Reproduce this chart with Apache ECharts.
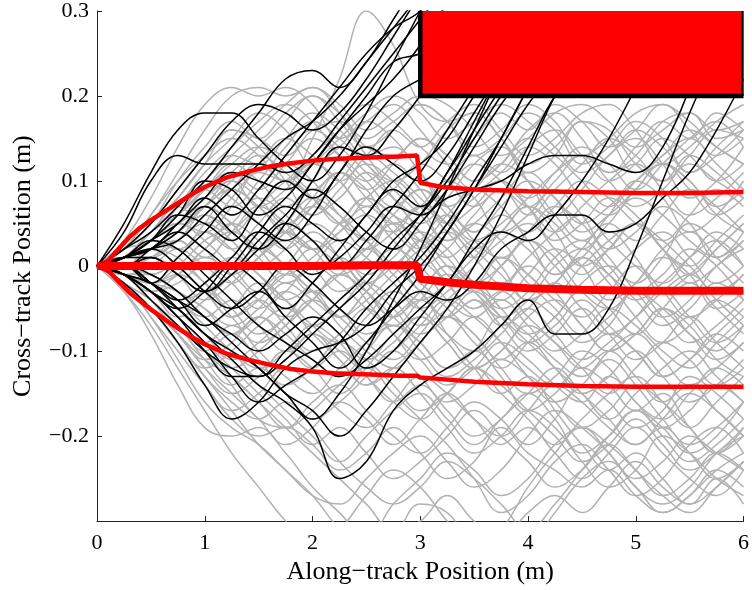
<!DOCTYPE html>
<html><head><meta charset="utf-8">
<script src="https://cdn.jsdelivr.net/npm/echarts@6/dist/echarts.min.js"></script>
<style>html,body{margin:0;padding:0;background:#fff}#c{width:752px;height:590px}</style>
</head><body><div id="c"></div>
<script>
// along-track sample positions (m)
const alongTrack = [0,0.25,0.5,0.75,1,1.25,1.5,1.75,2,2.25,2.5,2.75,3,3.25,3.5,3.75,4,4.25,4.5,4.75,5,5.25,5.5,5.75,6];
const xTickLabels = ['0','1','2','3','4','5','6'];
const yTickLabels = ['', '\u22120.2', '\u22120.1', '0', '0.1', '0.2', '0.3'];

// gray trajectories (no collision), cross-track position (m)
const g01 = [0,0.02,0.06,0.11,0.16,0.20,0.21,0.20,0.21,0.18,0.13,0.10,0.12,0.16,0.18,0.15,0.11,0.13,0.17,0.16,0.12,0.10,0.13,0.16,0.15];
const g02 = [0,0.03,0.08,0.14,0.19,0.21,0.20,0.21,0.19,0.15,0.17,0.19,0.16,0.12,0.09,0.11,0.14,0.12,0.08,0.06,0.09,0.12,0.10,0.07,0.09];
const g03 = [0,0.01,0.03,0.05,0.04,0.07,0.11,0.10,0.15,0.22,0.30,0.26,0.19,0.17,0.18,0.15,0.12,0.14,0.17,0.15,0.11,0.13,0.16,0.14,0.12];
const g04 = [0,0.02,0.05,0.08,0.12,0.16,0.15,0.13,0.16,0.17,0.14,0.13,0.15,0.13,0.10,0.12,0.16,0.18,0.15,0.11,0.13,0.17,0.18,0.15,0.16];
const g05 = [0,0.01,0.03,0.07,0.10,0.13,0.12,0.15,0.18,0.16,0.13,0.14,0.11,0.07,0.09,0.12,0.10,0.06,0.03,0.06,0.10,0.08,0.04,0.06,0.10];
const g06 = [0,0.01,0.04,0.06,0.09,0.12,0.10,0.07,0.10,0.14,0.12,0.08,0.05,0.08,0.12,0.14,0.10,0.06,0.09,0.13,0.15,0.12,0.08,0.10,0.14];
const g07 = [0,0.02,0.03,0.06,0.08,0.06,0.09,0.12,0.10,0.06,0.03,0.06,0.09,0.07,0.03,0.01,0.04,0.07,0.05,0.01,-0.02,0.01,0.05,0.03,0.00];
const g08 = [0,0.01,0.02,0.05,0.07,0.05,0.02,0.04,0.08,0.11,0.09,0.05,0.07,0.10,0.08,0.04,0.06,0.09,0.06,0.02,0.04,0.07,0.05,0.01,0.03];
const g09 = [0,0.00,0.02,0.03,0.01,0.04,0.07,0.05,0.02,0.04,0.08,0.10,0.07,0.03,0.05,0.08,0.11,0.08,0.04,0.06,0.09,0.12,0.10,0.06,0.04];
const g10 = [0,0.01,0.01,0.03,0.05,0.03,0.00,0.02,0.05,0.03,-0.01,0.01,0.04,0.02,-0.02,-0.04,-0.01,0.02,0.00,-0.04,-0.02,0.02,0.04,0.01,-0.02];
const g11 = [0,-0.01,0.00,0.02,0.00,-0.02,0.01,0.04,0.02,-0.01,0.01,0.05,0.03,-0.01,-0.03,0.00,0.03,0.01,-0.03,-0.05,-0.02,0.01,-0.01,-0.05,-0.03];
const g12 = [0,0.00,-0.02,-0.01,0.02,0.04,0.02,-0.01,0.01,0.04,0.06,0.03,0.00,0.02,0.05,0.03,-0.01,-0.03,0.00,0.03,0.05,0.02,-0.02,0.00,0.03];
const g13 = [0,-0.01,-0.03,-0.02,0.00,-0.02,-0.05,-0.03,0.00,-0.02,-0.05,-0.07,-0.04,-0.01,-0.03,-0.06,-0.04,0.00,0.02,-0.01,-0.04,-0.02,0.01,0.03,0.00];
const g14 = [0,-0.01,-0.02,-0.05,-0.07,-0.05,-0.02,-0.04,-0.07,-0.09,-0.06,-0.03,-0.05,-0.08,-0.10,-0.07,-0.04,-0.06,-0.09,-0.07,-0.03,-0.05,-0.08,-0.10,-0.07];
const g15 = [0,-0.02,-0.05,-0.08,-0.11,-0.09,-0.06,-0.08,-0.11,-0.13,-0.10,-0.07,-0.09,-0.12,-0.10,-0.06,-0.08,-0.11,-0.13,-0.10,-0.08,-0.11,-0.14,-0.12,-0.09];
const g16 = [0,-0.02,-0.06,-0.10,-0.14,-0.17,-0.15,-0.12,-0.14,-0.17,-0.19,-0.16,-0.13,-0.15,-0.18,-0.20,-0.17,-0.14,-0.16,-0.19,-0.21,-0.18,-0.15,-0.17,-0.20];
const g17 = [0,-0.03,-0.08,-0.14,-0.19,-0.20,-0.19,-0.22,-0.26,-0.29,-0.32,-0.28,-0.25,-0.22,-0.24,-0.27,-0.25,-0.21,-0.19,-0.22,-0.25,-0.23,-0.20,-0.22,-0.24];
const g18 = [0,-0.03,-0.07,-0.12,-0.17,-0.22,-0.26,-0.30,-0.33,-0.31,-0.27,-0.24,-0.26,-0.30,-0.33,-0.31,-0.26,-0.22,-0.19,-0.21,-0.24,-0.27,-0.25,-0.22,-0.24];
const g19 = [0,-0.02,-0.05,-0.09,-0.13,-0.17,-0.21,-0.24,-0.27,-0.28,-0.25,-0.22,-0.20,-0.23,-0.26,-0.24,-0.20,-0.17,-0.19,-0.22,-0.26,-0.28,-0.26,-0.22,-0.20];
const g20 = [0,-0.02,-0.04,-0.07,-0.10,-0.14,-0.18,-0.19,-0.16,-0.14,-0.17,-0.20,-0.22,-0.19,-0.16,-0.18,-0.21,-0.18,-0.14,-0.16,-0.19,-0.17,-0.13,-0.15,-0.18];
const g21 = [0,-0.01,-0.04,-0.08,-0.12,-0.15,-0.13,-0.10,-0.12,-0.15,-0.12,-0.08,-0.06,-0.09,-0.12,-0.10,-0.06,-0.04,-0.07,-0.10,-0.08,-0.05,-0.07,-0.11,-0.13];
const g22 = [0,-0.01,-0.03,-0.06,-0.09,-0.12,-0.10,-0.07,-0.04,-0.06,-0.09,-0.11,-0.08,-0.04,-0.02,-0.05,-0.08,-0.06,-0.02,0.00,-0.03,-0.06,-0.04,0.00,0.02];
const g23 = [0,0.01,0.02,0.00,-0.03,-0.06,-0.04,-0.01,-0.03,-0.07,-0.10,-0.12,-0.09,-0.06,-0.08,-0.12,-0.15,-0.13,-0.10,-0.12,-0.16,-0.18,-0.15,-0.12,-0.14];
const g24 = [0,0.01,0.03,0.05,0.03,0.00,-0.03,-0.01,0.02,0.00,-0.04,-0.08,-0.11,-0.09,-0.06,-0.09,-0.13,-0.16,-0.14,-0.11,-0.14,-0.18,-0.21,-0.19,-0.16];
const g25 = [0,0.01,0.04,0.07,0.10,0.08,0.05,0.02,0.04,0.01,-0.03,-0.06,-0.04,-0.08,-0.12,-0.15,-0.13,-0.17,-0.21,-0.24,-0.22,-0.25,-0.28,-0.26,-0.23];
const g26 = [0,0.02,0.05,0.09,0.13,0.16,0.14,0.10,0.06,0.08,0.11,0.08,0.04,0.01,0.03,0.00,-0.04,-0.02,0.01,-0.02,-0.06,-0.09,-0.07,-0.04,-0.06];
const g27 = [0,0.01,0.04,0.08,0.12,0.15,0.18,0.16,0.12,0.14,0.17,0.15,0.11,0.07,0.04,0.06,0.03,-0.01,0.01,0.04,0.01,-0.03,-0.01,0.02,0.05];
const g28 = [0,0.01,0.03,0.07,0.11,0.14,0.17,0.19,0.17,0.13,0.10,0.12,0.09,0.05,0.07,0.10,0.07,0.03,0.05,0.08,0.06,0.02,0.00,0.03,0.06];
const g29 = [0,-0.01,-0.02,-0.04,-0.02,0.01,-0.01,-0.04,-0.07,-0.05,-0.02,-0.04,-0.07,-0.05,-0.02,0.01,-0.02,-0.05,-0.08,-0.06,-0.03,-0.06,-0.09,-0.07,-0.04];
const g30 = [0,0.00,-0.01,-0.03,-0.06,-0.08,-0.06,-0.03,-0.05,-0.08,-0.11,-0.09,-0.06,-0.09,-0.12,-0.10,-0.07,-0.09,-0.12,-0.15,-0.12,-0.09,-0.11,-0.14,-0.12];
const g31 = [0,-0.01,-0.03,-0.05,-0.08,-0.10,-0.13,-0.11,-0.08,-0.10,-0.13,-0.16,-0.14,-0.17,-0.20,-0.18,-0.15,-0.18,-0.22,-0.20,-0.17,-0.20,-0.23,-0.21,-0.18];
const g32 = [0,-0.01,-0.04,-0.07,-0.09,-0.07,-0.10,-0.13,-0.15,-0.12,-0.09,-0.07,-0.10,-0.13,-0.11,-0.08,-0.05,-0.08,-0.11,-0.09,-0.06,-0.03,-0.06,-0.09,-0.07];
const g33 = [0,0.00,0.01,0.03,0.06,0.04,0.01,-0.02,0.00,0.03,0.01,-0.02,-0.05,-0.03,0.00,0.03,0.05,0.02,-0.01,0.02,0.05,0.03,0.00,-0.03,-0.01];
const g34 = [0,0.01,0.02,0.04,0.07,0.10,0.08,0.05,0.07,0.10,0.13,0.11,0.08,0.05,0.02,0.04,0.07,0.05,0.02,0.05,0.08,0.06,0.03,0.01,0.04];
const g35 = [0,0.01,0.03,0.06,0.09,0.11,0.09,0.12,0.15,0.13,0.10,0.07,0.09,0.06,0.03,0.05,0.08,0.11,0.13,0.10,0.07,0.09,0.12,0.10,0.08];
const g36 = [0,-0.01,-0.02,0.00,0.03,0.05,0.08,0.06,0.03,0.00,0.02,0.05,0.02,-0.02,-0.05,-0.03,0.00,-0.03,-0.07,-0.10,-0.08,-0.05,-0.08,-0.11,-0.09];
const g37 = [0,-0.01,-0.03,-0.06,-0.04,-0.01,0.02,0.00,-0.03,-0.06,-0.04,-0.01,0.02,0.04,0.01,-0.02,0.01,0.04,0.06,0.03,0.00,-0.02,0.01,0.04,0.02];
const g38 = [0,-0.02,-0.05,-0.09,-0.12,-0.10,-0.07,-0.05,-0.08,-0.11,-0.14,-0.12,-0.15,-0.19,-0.22,-0.20,-0.17,-0.19,-0.23,-0.26,-0.24,-0.20,-0.22,-0.25,-0.27];
const g39 = [0,-0.02,-0.05,-0.09,-0.13,-0.16,-0.18,-0.16,-0.19,-0.23,-0.26,-0.28,-0.26,-0.23,-0.25,-0.28,-0.31,-0.28,-0.24,-0.20,-0.17,-0.19,-0.22,-0.20,-0.16];
const g40 = [0,-0.01,-0.04,-0.07,-0.10,-0.08,-0.11,-0.14,-0.12,-0.09,-0.11,-0.14,-0.17,-0.15,-0.12,-0.14,-0.17,-0.20,-0.23,-0.21,-0.18,-0.21,-0.24,-0.22,-0.19];
const g41 = [0,0.01,0.02,0.04,0.02,-0.01,0.01,0.04,0.07,0.05,0.02,0.04,0.07,0.05,0.02,-0.01,-0.04,-0.02,0.01,-0.01,-0.04,-0.07,-0.05,-0.02,-0.04];
const g42 = [0,0.00,0.01,-0.01,-0.04,-0.02,0.01,0.03,0.00,-0.03,-0.01,0.02,0.00,-0.04,-0.06,-0.04,-0.07,-0.10,-0.08,-0.05,-0.07,-0.10,-0.12,-0.09,-0.06];
const g43 = [0,0.01,0.03,0.06,0.09,0.12,0.14,0.12,0.09,0.11,0.08,0.05,0.02,0.05,0.08,0.10,0.08,0.11,0.14,0.12,0.09,0.12,0.15,0.17,0.14];
const g44 = [0,0.01,0.03,0.05,0.08,0.11,0.14,0.17,0.20,0.18,0.15,0.17,0.19,0.17,0.14,0.16,0.19,0.17,0.13,0.15,0.18,0.19,0.16,0.13,0.15];
const g45 = [0,-0.01,-0.02,-0.03,-0.05,-0.07,-0.05,-0.02,-0.04,-0.06,-0.03,0.00,-0.02,-0.05,-0.08,-0.11,-0.09,-0.12,-0.15,-0.13,-0.10,-0.13,-0.16,-0.14,-0.11];
const g46 = [0,-0.02,-0.05,-0.08,-0.11,-0.13,-0.16,-0.19,-0.17,-0.14,-0.12,-0.15,-0.18,-0.21,-0.25,-0.29,-0.27,-0.23,-0.21,-0.24,-0.27,-0.25,-0.21,-0.19,-0.22];
const g47 = [0,-0.02,-0.06,-0.11,-0.16,-0.19,-0.21,-0.24,-0.27,-0.31,-0.34,-0.32,-0.28,-0.29,-0.33,-0.35,-0.33,-0.29,-0.25,-0.23,-0.26,-0.29,-0.27,-0.24,-0.26];
const g48 = [0,0.00,-0.02,-0.04,-0.07,-0.10,-0.12,-0.10,-0.07,-0.09,-0.12,-0.10,-0.07,-0.04,-0.06,-0.09,-0.12,-0.14,-0.11,-0.08,-0.10,-0.13,-0.11,-0.08,-0.05];
const g49 = [0,0.01,0.02,0.05,0.08,0.06,0.09,0.13,0.16,0.14,0.11,0.08,0.06,0.09,0.12,0.10,0.07,0.04,0.07,0.10,0.12,0.09,0.06,0.08,0.11];
const g50 = [0,0.00,0.02,0.01,-0.02,-0.05,-0.08,-0.06,-0.03,-0.05,-0.08,-0.06,-0.03,0.00,-0.02,-0.05,-0.03,0.01,0.03,0.00,-0.03,-0.01,0.02,0.00,-0.04];
const g51 = [0,0.01,0.03,0.06,0.10,0.13,0.16,0.19,0.21,0.19,0.16,0.18,0.20,0.19,0.16,0.13,0.15,0.18,0.19,0.17,0.14,0.16,0.18,0.16,0.17];
const g52 = [0,-0.02,-0.05,-0.09,-0.14,-0.18,-0.20,-0.19,-0.21,-0.24,-0.22,-0.19,-0.22,-0.25,-0.23,-0.19,-0.22,-0.24,-0.26,-0.24,-0.27,-0.29,-0.27,-0.24,-0.22];
const g53 = [0,0.01,0.02,0.04,0.07,0.09,0.07,0.04,0.02,0.05,0.08,0.06,0.03,0.06,0.09,0.07,0.04,0.07,0.10,0.08,0.05,0.03,0.06,0.09,0.07];
const g54 = [0,-0.01,-0.01,0.01,0.04,0.02,-0.01,-0.04,-0.02,0.01,-0.02,-0.05,-0.08,-0.06,-0.03,-0.06,-0.09,-0.07,-0.04,-0.07,-0.10,-0.13,-0.11,-0.08,-0.10];
const g55 = [0,-0.01,-0.03,-0.05,-0.03,-0.06,-0.09,-0.07,-0.04,-0.01,-0.03,-0.06,-0.09,-0.12,-0.10,-0.13,-0.17,-0.15,-0.12,-0.14,-0.17,-0.15,-0.19,-0.22,-0.20];
const g56 = [0,0.02,0.05,0.10,0.14,0.17,0.15,0.18,0.20,0.17,0.14,0.16,0.19,0.17,0.13,0.15,0.18,0.16,0.12,0.14,0.17,0.15,0.11,0.13,0.16];
const g57 = [0,0.01,0.04,0.07,0.05,0.08,0.12,0.15,0.13,0.10,0.13,0.16,0.14,0.17,0.19,0.16,0.13,0.15,0.18,0.19,0.16,0.12,0.14,0.17,0.19];
const g58 = [0,0.01,0.03,0.02,0.05,0.09,0.07,0.04,0.07,0.11,0.09,0.12,0.15,0.13,0.10,0.12,0.15,0.13,0.10,0.07,0.10,0.13,0.15,0.12,0.09];
const g59 = [0,0.00,-0.01,0.01,0.04,0.02,0.05,0.08,0.06,0.09,0.12,0.10,0.07,0.10,0.13,0.11,0.14,0.16,0.13,0.10,0.12,0.15,0.13,0.10,0.12];
const g60 = [0,0.01,0.03,0.05,0.08,0.10,0.07,0.09,0.12,0.10,0.06,0.04,0.07,0.04,0.01,0.04,0.07,0.04,0.00,0.02,0.05,0.02,-0.01,0.02,0.05];
const g61 = [0,-0.01,-0.02,0.00,-0.02,-0.05,-0.03,0.00,0.03,0.01,-0.02,0.00,0.03,0.06,0.04,0.07,0.10,0.08,0.05,0.07,0.10,0.12,0.09,0.06,0.08];
const g62 = [0,0.00,0.01,0.00,0.02,0.05,0.03,0.00,-0.03,-0.01,0.02,-0.01,-0.04,-0.02,0.01,0.04,0.02,-0.01,0.02,0.05,0.03,0.06,0.09,0.07,0.04];
const g63 = [0,-0.01,-0.03,-0.01,0.01,-0.01,-0.04,-0.06,-0.04,-0.01,-0.03,-0.06,-0.03,0.00,-0.02,0.01,-0.01,-0.04,-0.06,-0.03,0.00,-0.03,-0.06,-0.04,-0.01];
const g64 = [0,-0.01,-0.02,-0.04,-0.06,-0.04,-0.07,-0.10,-0.08,-0.11,-0.14,-0.12,-0.09,-0.06,-0.09,-0.12,-0.09,-0.06,-0.03,-0.05,-0.08,-0.05,-0.02,-0.05,-0.08];
const g65 = [0,-0.02,-0.04,-0.07,-0.11,-0.14,-0.12,-0.15,-0.18,-0.16,-0.13,-0.10,-0.13,-0.16,-0.14,-0.11,-0.13,-0.16,-0.19,-0.17,-0.14,-0.16,-0.19,-0.22,-0.19];
const g66 = [0,-0.01,-0.03,-0.06,-0.09,-0.12,-0.15,-0.18,-0.21,-0.19,-0.22,-0.25,-0.23,-0.20,-0.17,-0.20,-0.23,-0.26,-0.24,-0.21,-0.24,-0.27,-0.29,-0.26,-0.23];
const g67 = [0,-0.02,-0.05,-0.08,-0.12,-0.15,-0.18,-0.21,-0.19,-0.16,-0.18,-0.21,-0.18,-0.15,-0.18,-0.21,-0.19,-0.22,-0.25,-0.22,-0.19,-0.22,-0.25,-0.27,-0.24];
const g68 = [0,0.00,-0.01,-0.03,-0.05,-0.08,-0.06,-0.09,-0.12,-0.10,-0.13,-0.16,-0.18,-0.15,-0.12,-0.15,-0.18,-0.21,-0.18,-0.15,-0.13,-0.16,-0.19,-0.16,-0.13];
const g69 = [0,0.01,0.02,0.04,0.06,0.04,0.07,0.10,0.08,0.05,0.03,0.00,-0.03,-0.06,-0.04,-0.07,-0.10,-0.08,-0.05,-0.08,-0.11,-0.09,-0.06,-0.09,-0.12];
const g70 = [0,0.01,0.03,0.05,0.07,0.10,0.13,0.11,0.08,0.05,0.07,0.04,0.01,-0.02,-0.05,-0.03,-0.06,-0.09,-0.12,-0.10,-0.13,-0.16,-0.14,-0.17,-0.20];
const g71 = [0,0.01,0.02,0.03,0.06,0.09,0.12,0.10,0.13,0.16,0.19,0.17,0.14,0.12,0.15,0.18,0.16,0.19,0.17,0.14,0.16,0.19,0.17,0.14,0.12];
const g72 = [0,0.02,0.06,0.10,0.13,0.15,0.13,0.10,0.12,0.15,0.18,0.20,0.18,0.15,0.17,0.19,0.17,0.14,0.11,0.13,0.16,0.14,0.11,0.14,0.17];
const g73 = [0,0.00,-0.02,-0.04,-0.03,-0.01,0.02,0.04,0.02,0.05,0.08,0.06,0.04,0.01,-0.02,0.00,0.03,0.00,-0.03,-0.01,0.02,0.04,0.01,-0.02,0.00];
const g74 = [0,-0.01,-0.02,-0.05,-0.08,-0.11,-0.09,-0.06,-0.03,-0.06,-0.03,0.00,-0.03,-0.06,-0.04,-0.07,-0.05,-0.02,-0.05,-0.08,-0.06,-0.03,-0.01,-0.04,-0.07];
const g75 = [0,-0.01,-0.04,-0.07,-0.10,-0.13,-0.16,-0.19,-0.22,-0.25,-0.28,-0.31,-0.30,-0.27,-0.30,-0.32,-0.29,-0.27,-0.29,-0.26,-0.23,-0.26,-0.28,-0.25,-0.28];
const g76 = [0,0.01,0.02,0.04,0.07,0.05,0.02,0.05,0.08,0.06,0.03,0.00,0.03,0.00,-0.03,-0.06,-0.09,-0.12,-0.15,-0.18,-0.21,-0.19,-0.22,-0.25,-0.23];
const g77 = [0,0.00,0.01,0.03,0.01,0.04,0.07,0.10,0.12,0.10,0.07,0.09,0.12,0.10,0.07,0.09,0.06,0.09,0.12,0.15,0.13,0.10,0.13,0.11,0.08];
const g78 = [0,-0.01,-0.02,-0.01,-0.03,-0.06,-0.04,-0.07,-0.10,-0.08,-0.05,-0.08,-0.11,-0.14,-0.12,-0.09,-0.11,-0.14,-0.16,-0.13,-0.16,-0.19,-0.17,-0.14,-0.16];
const g79 = [0,0.01,0.03,0.06,0.09,0.07,0.10,0.14,0.17,0.15,0.12,0.09,0.06,0.03,0.06,0.09,0.07,0.10,0.13,0.11,0.14,0.17,0.15,0.18,0.16];
const g80 = [0,-0.01,-0.03,-0.05,-0.08,-0.11,-0.14,-0.17,-0.20,-0.23,-0.20,-0.17,-0.15,-0.18,-0.21,-0.18,-0.15,-0.12,-0.15,-0.18,-0.15,-0.12,-0.10,-0.13,-0.16];

// black trajectories (collision with obstacle), sampled on alongTrack until they end
const k01 = [0,0.05,0.11,0.16,0.18,0.18,0.15,0.12,0.10,0.13,0.18,0.24,0.30,0.36];
const k02 = [0,0.04,0.10,0.13,0.12,0.12,0.12,0.11,0.13,0.17,0.21,0.25,0.29,0.33];
const k03 = [0,0.02,0.05,0.09,0.13,0.17,0.19,0.18,0.16,0.18,0.22,0.27,0.32];
const k04 = [0,0.02,0.04,0.07,0.10,0.14,0.18,0.22,0.23,0.21,0.24,0.29,0.34];
const k05 = [0,0.01,0.03,0.05,0.08,0.06,0.09,0.13,0.17,0.21,0.25,0.28,0.30,0.34];
const k06 = [0,0.01,0.02,0.04,0.07,0.04,0.02,0.05,0.10,0.14,0.13,0.16,0.20,0.24];
const k07 = [0,0.01,0.03,0.06,0.05,0.03,0.07,0.10,0.08,0.11,0.16,0.20,0.22,0.24];
const k08 = [0,0.00,-0.02,0.01,0.04,0.07,0.05,0.03,0.06,0.11,0.14,0.12,0.10,0.13,0.18,0.23];
const k09 = [0,0.00,0.01,-0.01,-0.03,0.00,0.04,0.07,0.05,0.03,0.06,0.10,0.12,0.15,0.20,0.24];
const k10 = [0,-0.01,-0.03,-0.05,-0.03,0.00,-0.02,-0.05,-0.02,0.02,0.06,0.09,0.07,0.11,0.16,0.21];
const k11 = [0,-0.01,-0.04,-0.07,-0.10,-0.12,-0.13,-0.10,-0.07,-0.04,-0.01,0.03,0.06,0.10,0.15,0.20,0.24];
const k12 = [0,-0.02,-0.05,-0.09,-0.14,-0.18,-0.16,-0.12,-0.10,-0.09,-0.07,-0.03,0.00,0.04,0.09,0.14,0.19,0.23];
const k13 = [0,-0.01,-0.03,-0.05,-0.08,-0.11,-0.14,-0.16,-0.19,-0.25,-0.23,-0.17,-0.14,-0.12,-0.10,-0.07,-0.04,-0.08,-0.08,-0.05,0.02,0.10,0.18,0.25];
const k14 = [0,0.01,0.02,0.00,-0.03,-0.05,-0.03,0.00,-0.02,-0.05,-0.07,-0.05,-0.03,-0.04,-0.02,0.02,0.04,0.06,0.06,0.04,0.05,0.08,0.11,0.16,0.22];
const k15 = [0,-0.01,-0.02,-0.04,-0.02,0.01,0.04,0.02,-0.01,0.01,0.04,0.07,0.06,0.08,0.09,0.10,0.12,0.13,0.13,0.12,0.11,0.14,0.21];
const k16 = [0,0.01,0.03,0.02,-0.01,-0.04,-0.07,-0.09,-0.11,-0.13,-0.11,-0.08,-0.05,-0.02,0.03,0.08,0.14,0.20,0.24];
const k17 = [0,0.00,-0.02,-0.05,-0.08,-0.10,-0.12,-0.15,-0.17,-0.20,-0.17,-0.13,-0.09,-0.05,0.00,0.06,0.13,0.20,0.25];
const k18 = [0,0.00,0.02,0.04,0.02,0.00,0.03,0.06,0.09,0.07,0.04,0.02,0.05,0.09,0.14,0.19,0.23];
const k19 = [0,0.01,0.03,0.06,0.10,0.09,0.06,0.08,0.12,0.16,0.19,0.22,0.26,0.31];
const k20 = [0,-0.01,-0.03,-0.06,-0.09,-0.13,-0.16,-0.14,-0.12,-0.09,-0.05,-0.02,0.01,0.05,0.10,0.15,0.21];
const k21 = [0,0.01,0.02,0.05,0.08,0.11,0.10,0.09,0.12,0.16,0.20,0.24,0.25,0.27];
const k22 = [0,0.00,-0.01,-0.03,-0.06,-0.08,-0.10,-0.08,-0.06,-0.08,-0.12,-0.10,-0.06,-0.02,0.02,0.04,0.03,0.06,0.10,0.15,0.21];
const k23 = [0,0.01,0.02,0.03,0.06,0.09,0.12,0.15,0.17,0.20,0.24,0.28,0.32];
const k24 = [0,-0.01,-0.03,-0.06,-0.10,-0.13,-0.13,-0.11,-0.08,-0.05,-0.02,0.02,0.06,0.11,0.17,0.23];
const k25 = [0,0.00,-0.02,-0.04,-0.07,-0.05,-0.03,-0.06,-0.09,-0.12,-0.09,-0.05,-0.01,0.04,0.09,0.15,0.21];
const k26 = [0,-0.01,-0.02,-0.04,-0.06,-0.09,-0.12,-0.15,-0.18,-0.15,-0.10,-0.04,0.02,0.09,0.16,0.23];
const k27 = [0,0.01,0.01,-0.01,-0.03,-0.01,0.02,0.05,0.03,0.00,0.03,0.07,0.11,0.16,0.21];

// statistics (red curves)
const statX  = [0,0.1,0.2,0.3,0.4,0.5,0.6,0.7,0.8,0.9,1.0,1.2,1.4,1.6,1.8,2.0,2.2,2.4,2.6,2.8,2.97,3.0,3.2,3.5,4,4.5,5,5.5,6];
const upperY = [0,0.006,0.02,0.034,0.045,0.054,0.062,0.07,0.078,0.086,0.093,0.104,0.111,0.117,0.121,0.124,0.126,0.127,0.128,0.129,0.130,0.098,0.093,0.090,0.088,0.087,0.086,0.086,0.087];
const lowerY = [0,-0.005,-0.018,-0.031,-0.041,-0.051,-0.06,-0.069,-0.077,-0.085,-0.092,-0.103,-0.11,-0.116,-0.121,-0.124,-0.126,-0.127,-0.128,-0.129,-0.129,-0.131,-0.133,-0.136,-0.139,-0.141,-0.142,-0.142,-0.142];
const meanX  = [0,0.5,1,1.5,2,2.5,2.97,3.0,3.25,3.5,4,4.5,5,5.5,6];
const meanY  = [0,0,0,0,0,0.001,0.001,-0.015,-0.019,-0.022,-0.026,-0.028,-0.029,-0.029,-0.029];

// obstacle rectangle (extends above the visible range)
const obstacleX = [3, 6];
const obstacleY = [0.2, 0.33];

const grayRuns = [g01,g02,g03,g04,g05,g06,g07,g08,g09,g10,g11,g12,g13,g14,g15,g16,g17,g18,g19,g20,g21,g22,g23,g24,g25,g26,g27,g28,g29,g30,g31,g32,g33,g34,g35,g36,g37,g38,g39,g40,g41,g42,g43,g44,g45,g46,g47,g48,g49,g50,g51,g52,g53,g54,g55,g56,g57,g58,g59,g60,g61,g62,g63,g64,g65,g66,g67,g68,g69,g70,g71,g72,g73,g74,g75,g76,g77,g78,g79,g80];
const blackRuns = [k01,k02,k03,k04,k05,k06,k07,k08,k09,k10,k11,k12,k13,k14,k15,k16,k17,k18,k19,k20,k21,k22,k23,k24,k25,k26,k27];

const FONT = "'Liberation Serif','Times New Roman',serif";
const pairs = (xs, ys) => ys.map((y, i) => [xs[i], y]);

const series = [];
grayRuns.forEach(r => series.push({
  type:'line', data: pairs(alongTrack, r), smooth: 0.4, showSymbol:false, symbol:'none', z:2, silent:true,
  lineStyle:{color:'#b2b2b2', width:1.5}
}));
blackRuns.forEach(r => series.push({
  type:'line', data: pairs(alongTrack, r), smooth: 0.4, showSymbol:false, symbol:'none', z:3, silent:true,
  lineStyle:{color:'#000000', width:1.5}
}));
series.push({type:'line', data: pairs(statX, upperY), showSymbol:false, symbol:'none', z:4, silent:true, lineStyle:{color:'#ff0000', width:4.5}});
series.push({type:'line', data: pairs(statX, lowerY), showSymbol:false, symbol:'none', z:4, silent:true, lineStyle:{color:'#ff0000', width:4.5}});
series.push({type:'line', data: pairs(meanX, meanY), showSymbol:false, symbol:'none', z:4, silent:true, lineStyle:{color:'#ff0000', width:8}});
series.push({
  type:'custom', z:6, silent:true,
  data:[[obstacleX[0], obstacleY[0], obstacleX[1], obstacleY[1]]],
  encode:{x:[0,2], y:[1,3]},
  renderItem:(params, api) => {
    const cs = params.coordSys;
    const a = api.coord([api.value(0), api.value(3)]);   // top-left
    const b = api.coord([api.value(2), api.value(1)]);   // bottom-right
    const top = Math.max(a[1], cs.y);
    const right = Math.min(b[0], cs.x + cs.width);
    const bw = 4.5;
    return {type:'group', children:[
      {type:'rect', shape:{x:a[0], y:top, width:right-a[0], height:b[1]-top}, style:{fill:'#ff0000'}},
      {type:'polyline', shape:{points:[[a[0], top],[a[0], b[1]],[right, b[1]]]},
        style:{fill:null, stroke:'#000000', lineWidth:bw, lineJoin:'miter', lineCap:'butt'}},
      {type:'line', shape:{x1:right-1, y1:top, x2:right-1, y2:b[1]},
        style:{stroke:'#000000', lineWidth:2}}
    ]};
  }
});

const chart = echarts.init(document.getElementById('c'), null, {renderer:'canvas'});
chart.setOption({
  animation:false,
  backgroundColor:'#ffffff',
  grid:{left:97, right:8, top:11, bottom:68, containLabel:false},
  xAxis:{
    type:'value', min:0, max:6, interval:1,
    name:'Along\u2212track Position (m)', nameLocation:'middle', nameGap:33,
    nameTextStyle:{fontFamily:FONT, fontSize:26, color:'#000'},
    axisLine:{show:true, onZero:false, lineStyle:{color:'#222', width:1}},
    axisTick:{show:true, inside:true, length:5, lineStyle:{color:'#222'}},
    axisLabel:{fontFamily:FONT, fontSize:22, color:'#000', margin:11,
      formatter:(v) => xTickLabels[Math.round(v)]},
    splitLine:{show:false}
  },
  yAxis:{
    type:'value', min:-0.3, max:0.3, interval:0.1,
    name:'Cross\u2212track Position (m)', nameLocation:'middle', nameGap:61,
    nameTextStyle:{fontFamily:FONT, fontSize:26, color:'#000'},
    axisLine:{show:true, onZero:false, lineStyle:{color:'#222', width:1}},
    axisTick:{show:true, inside:true, length:5, lineStyle:{color:'#222'}},
    axisLabel:{fontFamily:FONT, fontSize:22, color:'#000', margin:8,
      formatter:(v) => yTickLabels[Math.round(v*10)+3]},
    splitLine:{show:false}
  },
  series: series
});
</script>
</body></html>
